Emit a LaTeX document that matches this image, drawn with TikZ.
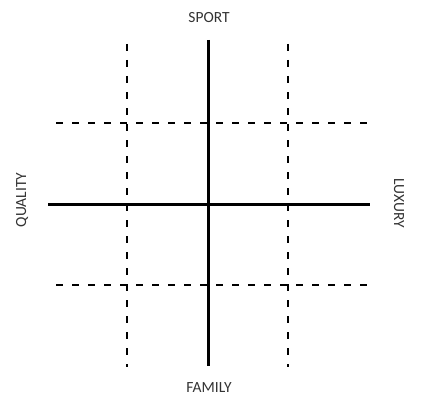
\documentclass[tikz,border=0pt]{standalone}
\usepackage{fontspec}
\setmainfont{Carlito}
\begin{document}
\begin{tikzpicture}[x=1pt,y=-1pt,
  axis/.style={line width=3pt},
  grid/.style={line width=1.3pt,dash pattern=on 7pt off 9pt},
  lbl/.style={font=\fontsize{15.5}{18}\selectfont,text=black!80,inner sep=0pt}]
\useasboundingbox (0,0) rectangle (423,404);
\coordinate (vt) at (208,40); \coordinate (vb) at (208,366);
\coordinate (hl) at (48,204); \coordinate (hr) at (370,204);
\coordinate (d1t) at (127,44); \coordinate (d1b) at (127,367);
\coordinate (d2t) at (288,44); \coordinate (d2b) at (288,367);
\coordinate (d3l) at (56,123); \coordinate (d3r) at (370,123);
\coordinate (d4l) at (56,285); \coordinate (d4r) at (370,285);
\draw[grid] (d1t) -- (d1b);
\draw[grid] (d2t) -- (d2b);
\draw[grid] (d3l) -- (d3r);
\draw[grid] (d4l) -- (d4r);
\draw[axis] (vt) -- (vb);
\draw[axis] (hl) -- (hr);
\node[lbl] (sport) at (209,18) {SPORT};
\node[lbl] (family) at (209,388) {FAMILY};
\node[lbl,rotate=90] (quality) at (22,200) {QUALITY};
\node[lbl,rotate=-90] (luxury) at (399,203) {LUXURY};
\end{tikzpicture}
\end{document}
